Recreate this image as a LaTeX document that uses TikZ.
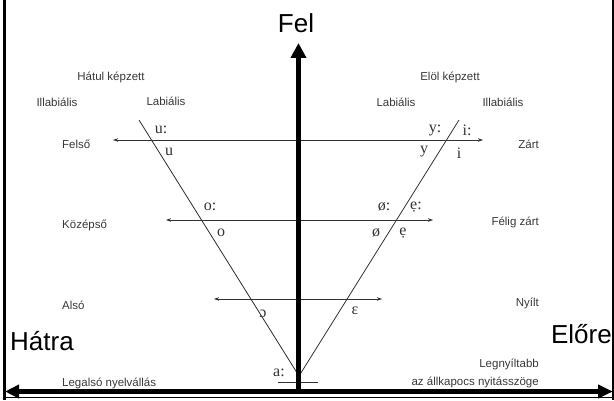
\documentclass[tikz,border=0pt]{standalone}
\usepackage{fontspec}
\setmainfont{Liberation Sans}
\newfontfamily\vowelfont{Liberation Serif}
\usetikzlibrary{arrows.meta}
\definecolor{lbl}{HTML}{383838}
\definecolor{thin}{HTML}{333333}
\tikzset{
  lab/.style={font=\fontsize{11.5}{13}\selectfont, text=lbl, inner sep=0pt},
  big/.style={font=\fontsize{26}{30}\selectfont, text=black, inner sep=0pt},
  vow/.style={font=\vowelfont\fontsize{16}{18}\selectfont, text=thin, inner sep=0pt},
  thinline/.style={draw=thin, line width=0.8pt},
  levelarrow/.style={thinline, {Stealth[length=5pt,width=3.5pt]}-{Stealth[length=5pt,width=3.5pt]}},
  thickaxis/.style={draw=black, line width=4.2pt},
  framel/.style={draw=black},
}
\begin{document}
\begin{tikzpicture}[x=1pt,y=1pt]
\useasboundingbox (0,0) rectangle (614,400);
% frame
\draw[framel, line width=3pt] (4,0) -- (4,400);
\draw[framel, line width=2pt] (613,0) -- (613,400);
\draw[framel, line width=0.8pt] (4,2.5) -- (613,2.5);
% V shape
\coordinate (tl) at (139,280);
\coordinate (tr) at (459,280);
\coordinate (ap) at (299,24);
\draw[thinline] (tl) -- (ap) -- (tr);
\coordinate (al) at (278,18);
\coordinate (ar) at (318,18);
\draw[thinline] (al) -- (ar);
% level arrows
\coordinate (f1) at (113,260); \coordinate (f2) at (483,260);
\coordinate (k1) at (166,180); \coordinate (k2) at (433,180);
\coordinate (a1) at (214,101); \coordinate (a2) at (382,101);
\draw[levelarrow] (f1) -- (f2);
\draw[levelarrow] (k1) -- (k2);
\draw[levelarrow] (a1) -- (a2);
% thick axes
\coordinate (b1) at (5,8.5); \coordinate (b2) at (613,8.5);
\coordinate (v1) at (298.5,8.5); \coordinate (v2) at (298.5,357);
\draw[thickaxis, -{Triangle[length=15pt,width=15pt]}] (v1) -- (v2);
\draw[thickaxis, {Triangle[length=14pt,width=13pt]}-{Triangle[length=15pt,width=13pt]}] (b1) -- (b2);
% big labels
\node[big] (fel) at (296,377) {Fel};
\node[big, anchor=base west] (hatra) at (10,50) {Hátra};
\node[big, anchor=base east] (elore) at (612,57) {Előre};
% headers
\node[lab] (hk) at (111,323) {Hátul képzett};
\node[lab] (il1) at (57,298) {Illabiális};
\node[lab] (lb1) at (166,299) {Labiális};
\node[lab] (ek) at (450,323) {Elöl képzett};
\node[lab] (lb2) at (396,298) {Labiális};
\node[lab] (il2) at (503,298) {Illabiális};
% row labels
\node[lab, anchor=west] (felso) at (62,256) {Felső};
\node[lab, anchor=east] (zart) at (539,256) {Zárt};
\node[lab, anchor=west] (kozep) at (62,175) {Középső};
\node[lab, anchor=east] (felig) at (539,178) {Félig zárt};
\node[lab, anchor=west] (also) at (62,95) {Alsó};
\node[lab, anchor=east] (nyilt) at (539,97) {Nyílt};
\node[lab, anchor=west] (legalso) at (62,17) {Legalsó nyelvállás};
\node[lab, anchor=east] (legny) at (539,36) {Legnyíltabb};
\node[lab, anchor=east] (allk) at (539,18) {az állkapocs nyitásszöge};
% vowels
\node[vow] (uu) at (161,270) {u:};
\node[vow] (u) at (169,248) {u};
\node[vow] (oo) at (210,193) {o:};
\node[vow] (o) at (221,167) {o};
\node[vow] (oc) at (263,86) {ɔ};
\node[vow] (aa) at (279,27) {a:};
\node[vow] (yy) at (435,270) {y:};
\node[vow] (ii) at (467,270) {i:};
\node[vow] (y) at (424,248) {y};
\node[vow] (i) at (459,247) {i};
\node[vow] (oe2) at (384,193) {ø:};
\node[vow] (ee) at (416,193) {ẹ:};
\node[vow] (oe) at (376,167) {ø};
\node[vow] (e) at (403,167) {ẹ};
\node[vow] (eps) at (355,89) {ɛ};
\end{tikzpicture}
\end{document}
